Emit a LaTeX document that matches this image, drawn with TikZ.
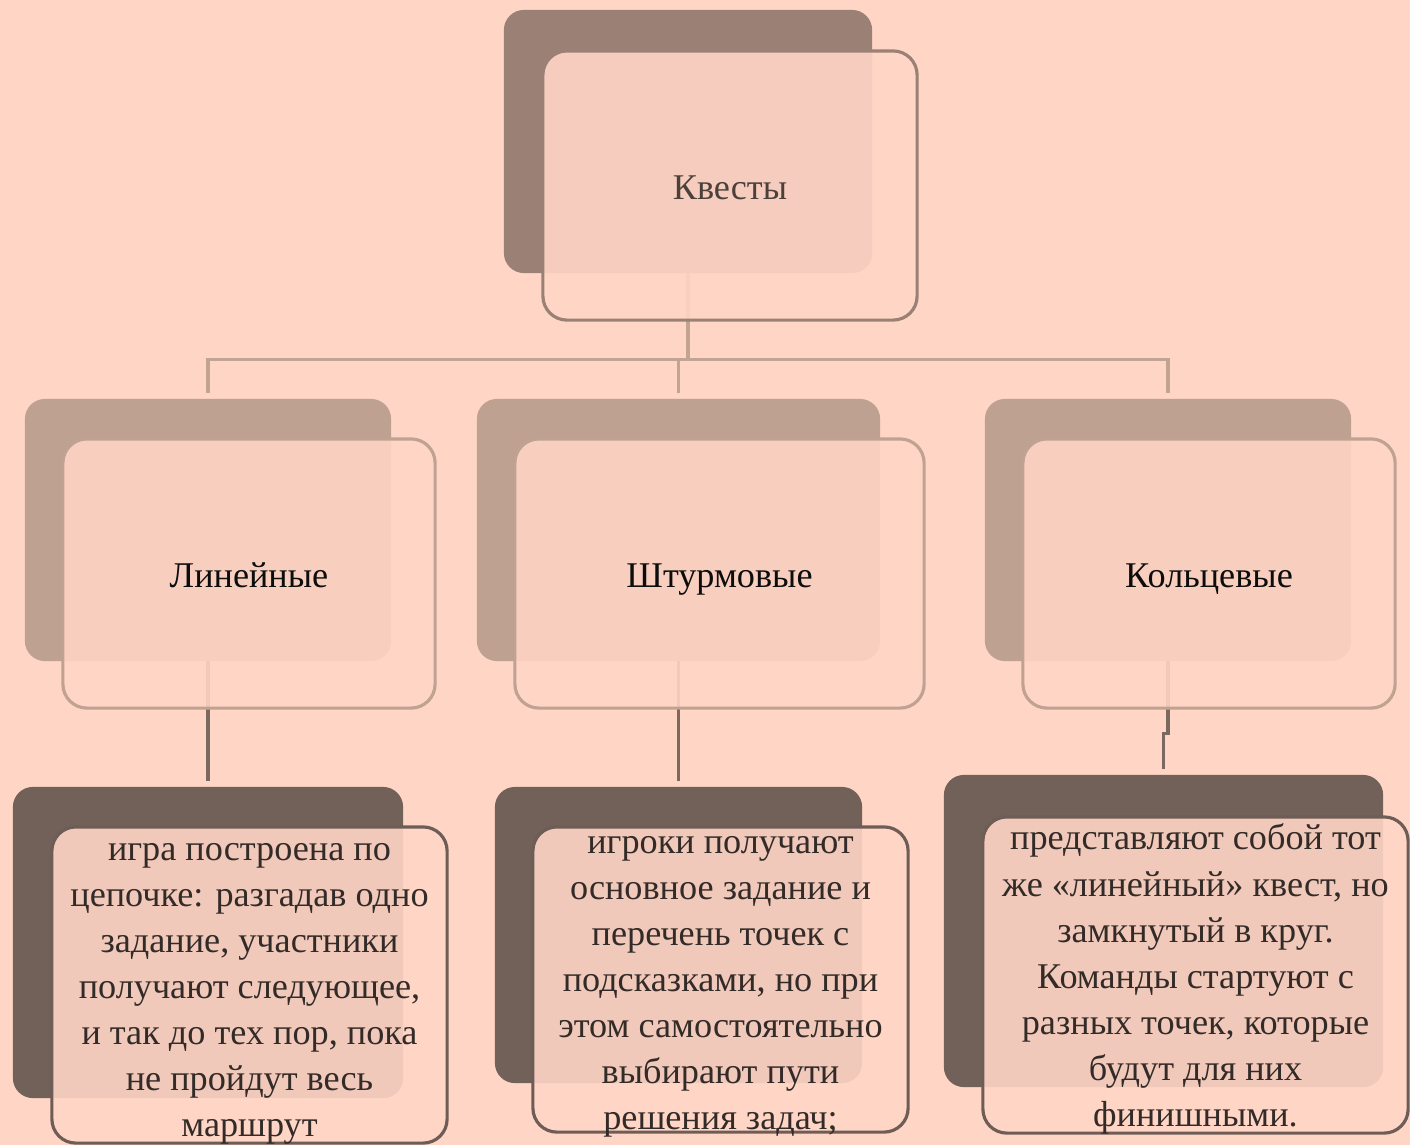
\documentclass[tikz,border=0pt]{standalone}
\usepackage{fontspec}
\setmainfont{Liberation Serif}
\usepackage{tikz}
\definecolor{page}{HTML}{FFD5C5}
\definecolor{top back}{HTML}{9A8075}
\definecolor{mid back}{HTML}{BFA191}
\definecolor{low back}{HTML}{726159}
\definecolor{top edge}{HTML}{9A8075}
\definecolor{mid edge}{HTML}{C0A293}
\definecolor{low edge}{HTML}{6E5D56}
\definecolor{upper line}{HTML}{C2A494}
\definecolor{lower line}{HTML}{7A6861}
\tikzset{card/.style={rectangle, inner sep=0pt, outer sep=0pt},
    back/.style={card, rounded corners=0.2cm, fill=#1},
    front/.style={card, rounded corners=0.24cm, draw=#1, line width=0.9pt, fill=page, fill opacity=0.9},
    branch/.style={draw=#1, line width=0.9pt, shorten >=0.06cm},
    title/.style={text=#1, anchor=base, font=\fontsize{10.3}{12}\selectfont},
    notes/.style={text=#1, align=center, font=\fontsize{10.3}{13.1}\selectfont}}

\begin{document}
\begin{tikzpicture}[x=0.01cm, y=-0.01cm]
    \fill[page] (0,0) rectangle (1410,1145);
    \useasboundingbox (0,0) rectangle (1410,1145);
    % back cards
    \node[back=top back, minimum width=3.68cm, minimum height=2.63cm] (qb) at (688,141.5) {};
    \node[back=mid back, minimum width=3.66cm, minimum height=2.62cm] (lb) at (208,530) {};
    \node[back=mid back, minimum width=4.03cm, minimum height=2.62cm] (sb) at (678.5,530) {};
    \node[back=mid back, minimum width=3.66cm, minimum height=2.62cm] (kb) at (1168,530) {};
    \node[back=low back, minimum width=3.90cm, minimum height=3.11cm] (ld) at (208,942.5) {};
    \node[back=low back, minimum width=3.67cm, minimum height=2.96cm] (sd) at (678.5,935) {};
    \node[back=low back, minimum width=4.39cm, minimum height=3.12cm] (kd) at (1163.5,931) {};
    % connectors
    \draw[branch=upper line] (qb.south) -- ++(0,86) coordinate (bus) -| (lb.north);
    \draw[branch=upper line] (bus) -| (sb.north);
    \draw[branch=upper line] (bus) -| (kb.north);
    \draw[branch=lower line] (lb.south) -- (ld.north);
    \draw[branch=lower line] (sb.south) -- (sd.north);
    \draw[branch=lower line] (kb.south) -- ++(0,72) -| (kd.north);
    % front cards
    \node[front=top edge, minimum width=3.74cm, minimum height=2.69cm] (qf) at (730,185.5) {};
    \node[front=mid edge, minimum width=3.72cm, minimum height=2.69cm] (lf) at (249,573.5) {};
    \node[front=mid edge, minimum width=4.09cm, minimum height=2.69cm] (sf) at (719.5,573.5) {};
    \node[front=mid edge, minimum width=3.72cm, minimum height=2.69cm] (kf) at (1209,573.5) {};
    \node[front=low edge, minimum width=3.95cm, minimum height=3.16cm] (lt) at (249.5,985) {};
    \node[front=low edge, minimum width=3.75cm, minimum height=3.05cm] (st) at (720.5,979.5) {};
    \node[front=low edge, minimum width=4.25cm, minimum height=3.16cm] (kt) at (1195.5,975) {};
    % texts
    \node[title=black!70!page] (quests) at ([yshift=-0.135cm]qf.center) {Квесты};
    \node[title=black!95] (linear) at ([yshift=-0.135cm]lf.center) {Линейные};
    \node[title=black!95] (storm) at ([yshift=-0.135cm]sf.center) {Штурмовые};
    \node[title=black!95] (ring) at ([yshift=-0.135cm]kf.center) {Кольцевые};
    \node[notes=black!80!page] (linear text) at ([yshift=-0.09cm]lt.center) {игра построена по\\цепочке: разгадав одно\\задание, участники\\получают следующее,\\и так до тех пор, пока\\не пройдут весь\\маршрут};
    \node[notes=black!80!page] (storm text) at ([yshift=-0.07cm]st.center) {игроки получают\\основное задание и\\перечень точек с\\подсказками, но при\\этом самостоятельно\\выбирают пути\\решения задач;};
    \node[notes=black!80!page] (ring text) at ([yshift=-0.04cm]kt.center) {представляют собой тот\\же «линейный» квест, но\\замкнутый в круг.\\Команды стартуют с\\разных точек, которые\\будут для них\\финишными.};
\end{tikzpicture}
\end{document}
